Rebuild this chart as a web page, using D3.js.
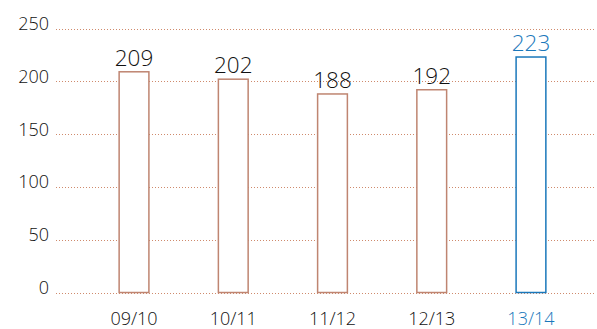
<!DOCTYPE html>
<html>
<head>
<meta charset="utf-8">
<script src="https://cdn.jsdelivr.net/npm/d3@7/dist/d3.min.js"></script>
<style>
  html, body { margin: 0; padding: 0; background: #fff; }
  svg { display: block; font-family: "Open Sans", sans-serif; }
</style>
</head>
<body>
<svg id="chart" width="597" height="329"></svg>
<script>
// Season totals
const seasons = ["09/10", "10/11", "11/12", "12/13", "13/14"];
const totals = [209, 202, 188, 192, 223];
const yTicks = [0, 50, 100, 150, 200, 250];
const highlightSeason = "13/14";

const svg = d3.select("#chart");

const x = d3.scaleBand()
  .domain(seasons)
  .range([84.4, 580.6])
  .paddingInner(0.7)
  .paddingOuter(0.35);

const y = d3.scaleLinear()
  .domain([0, 250])
  .range([292.5, 28.5]);

const brown = "#bf8571";
const blue = "#1a78bb";
const gridColor = "#cf8a6c";
const textColor = "#111";
const fontFamily = "Open Sans, sans-serif";

// Dotted gridlines
svg.append("g")
  .selectAll("line")
  .data(yTicks)
  .join("line")
  .attr("x1", 56)
  .attr("x2", 596)
  .attr("y1", d => Math.round(y(d)) + 0.5)
  .attr("y2", d => Math.round(y(d)) + 0.5)
  .attr("stroke", gridColor)
  .attr("stroke-width", 1)
  .attr("stroke-dasharray", "1 2");

// Y-axis labels
const yAxis = d3.axisLeft(y).tickValues(yTicks).tickSize(0).tickPadding(0);
const yg = svg.append("g").attr("transform", "translate(49,0)").call(yAxis);
yg.select(".domain").remove();
yg.selectAll("text")
  .attr("dy", "0")
  .attr("y", 1)
  .attr("font-size", 18)
  .attr("font-weight", 300)
  .attr("font-family", fontFamily)
  .attr("fill", textColor);

// Bars
const colorOf = s => s === highlightSeason ? blue : brown;
svg.append("g")
  .selectAll("rect")
  .data(seasons)
  .join("rect")
  .attr("x", s => x(s))
  .attr("y", (s, i) => y(totals[i]))
  .attr("width", x.bandwidth())
  .attr("height", (s, i) => y(0) - y(totals[i]))
  .attr("fill", "#fff")
  .attr("stroke", colorOf)
  .attr("stroke-width", 1.5);

// Value labels
svg.append("g")
  .selectAll("text")
  .data(seasons)
  .join("text")
  .attr("x", s => x(s) + x.bandwidth() / 2)
  .attr("y", (s, i) => y(totals[i]) - 6)
  .attr("text-anchor", "middle")
  .attr("font-size", 22.5)
  .attr("font-weight", 300)
  .attr("font-family", fontFamily)
  .attr("fill", s => s === highlightSeason ? blue : textColor)
  .text((s, i) => totals[i]);

// X-axis labels
const xAxis = d3.axisBottom(x).tickSize(0).tickPadding(0);
const xg = svg.append("g").attr("transform", "translate(0,325)").call(xAxis);
xg.select(".domain").remove();
xg.selectAll("text")
  .attr("dy", "0")
  .attr("y", 0)
  .attr("font-size", 18)
  .attr("font-weight", 300)
  .attr("font-family", fontFamily)
  .attr("fill", d => d === highlightSeason ? blue : textColor);
</script>
</body>
</html>
